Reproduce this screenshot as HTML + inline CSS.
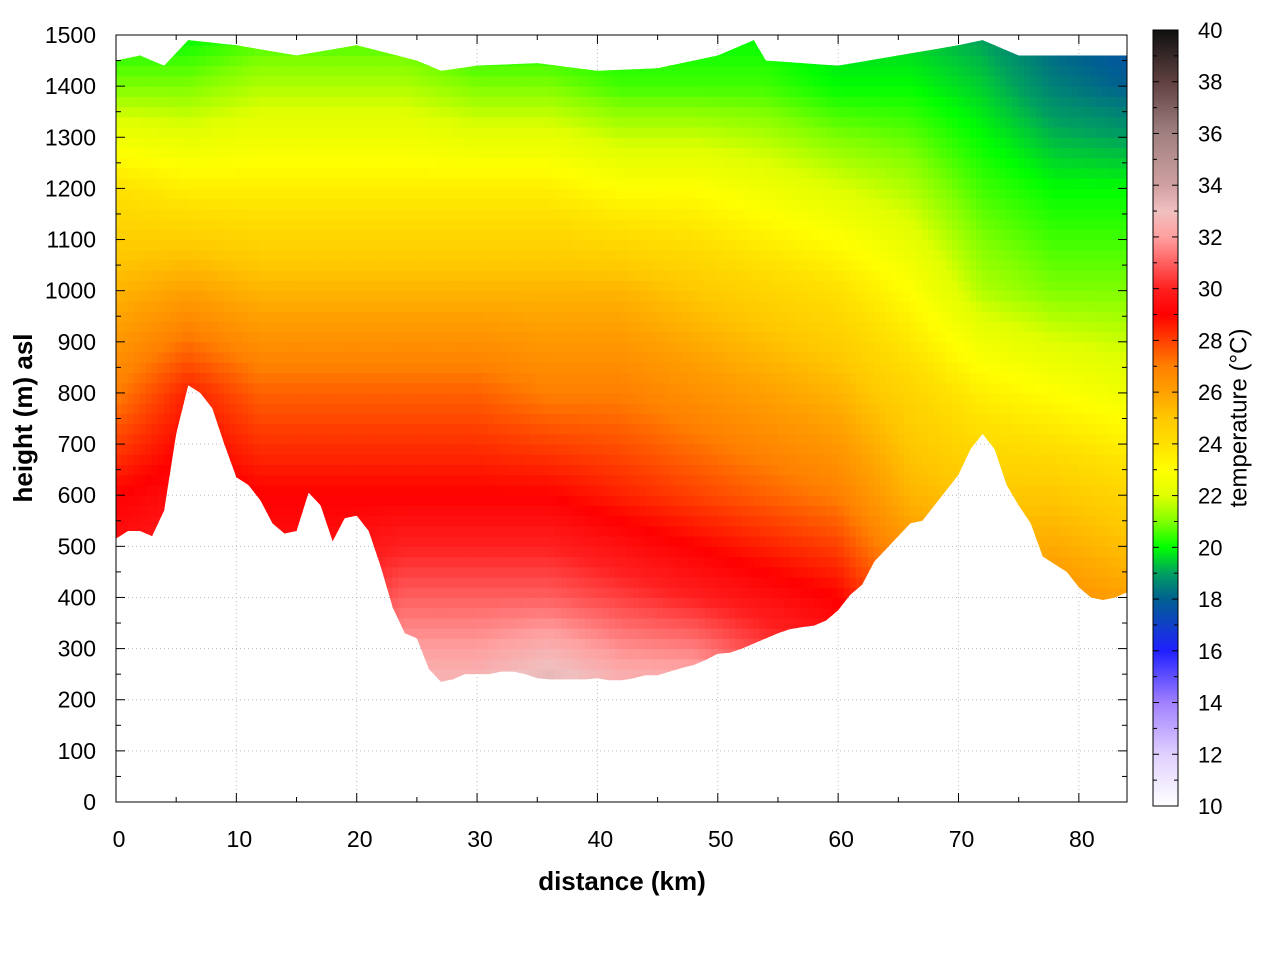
<!DOCTYPE html>
<html><head><meta charset="utf-8"><style>
body{margin:0;background:#fff;}
svg text{font-family:"Liberation Sans",sans-serif;}
</style></head><body>
<svg id="chart" width="1280" height="960" xmlns="http://www.w3.org/2000/svg">
<rect width="1280" height="960" fill="#fff"/>
<defs><clipPath id="terrainClip"><polygon id="clipPoly"/></clipPath>
<linearGradient id="cbGrad" x1="0" y1="1" x2="0" y2="0"></linearGradient></defs>
<g id="grid"></g>
<g id="heat" clip-path="url(#terrainClip)"></g>
<rect x="116" y="35" width="1011" height="767" fill="none" stroke="#000" stroke-width="1"/>
<g id="axes"></g>
<rect x="1153" y="30" width="25" height="776" fill="url(#cbGrad)" stroke="#000"/>
<g id="cbaxis"></g>
<text x="25" y="418" transform="rotate(-90 25 418)" text-anchor="middle" font-size="26" font-weight="bold" dominant-baseline="middle">height (m) asl</text>
<text x="622" y="890" text-anchor="middle" font-size="26" font-weight="bold">distance (km)</text>
<text x="1240" y="418" transform="rotate(-90 1240 418)" text-anchor="middle" font-size="24" dominant-baseline="middle">temperature (°C)</text>
</svg>
<script>
// ground profile (km step 1, m)
const groundHeight=[515,530,530,520,570,720,815,800,770,700,635,620,590,545,525,530,605,580,510,555,560,530,460,380,330,320,260,235,240,250,250,250,255,255,250,242,240,240,240,240,242,238,238,242,248,248,255,262,268,278,290,292,300,310,320,330,338,342,345,355,375,405,425,470,495,520,545,550,580,610,640,690,720,690,620,580,545,480,465,450,420,400,395,400,410];
// top boundary
const topDist=[0,2,4,6,10,15,20,25,27,30,35,40,45,50,53,54,60,65,70,72,75,80,84];
const topHeight=[1450,1460,1440,1490,1480,1460,1480,1450,1430,1440,1445,1430,1435,1460,1490,1450,1440,1460,1480,1490,1460,1460,1460];
// temperature grid
const tempDist=[0,6,12,18,24,30,36,42,48,54,60,66,72,78,84];
const tempLevels=[200,400,600,800,1000,1200,1400,1500];
const tempGrid=[
[31,30,29,27,25.5,24,21,20],
[31,30.5,29.5,28.5,26,23.5,21,20],
[31,30,29,27.5,25.5,23.5,21.5,20.5],
[31,30,29,27.5,25.5,23.5,21.5,20.5],
[33,31,29,27.5,25.5,23.5,21.5,20.5],
[33,31,29,27.5,25.5,23.5,21,20],
[34,31,29,27,25.5,23.5,21,20],
[33,30.5,28.5,27,25.5,23,20.5,20],
[33,30,28,26.5,25,23,20.5,20],
[31.5,29.5,27.5,26,24.5,22.5,20.5,20],
[30.5,29,27,25.5,24,22,20,19.5],
[28.5,27,25.5,24.5,23,21.5,20,19.5],
[27,26,25,23.5,21.5,20.5,19.5,19],
[27.5,26.5,25,23,21,20,18.5,18],
[27.5,26,24.5,22.5,21,20,18,17.5]];
const cbStops=[[10,"#ffffff"],[12,"#e0d0ff"],[14,"#a080ff"],[16,"#2020ff"],[18,"#006090"],[19,"#00a060"],[20,"#00ff00"],[21,"#80ff00"],[22,"#e0ff00"],[23,"#ffff00"],[24,"#ffe000"],[25,"#ffc800"],[26,"#ffa000"],[27,"#ff8000"],[28,"#ff4000"],[29,"#ff0000"],[30,"#ff2020"],[31,"#ff6060"],[32,"#ffa0a0"],[33,"#f0c0c0"],[34,"#d0a0a0"],[36,"#a08080"],[38,"#604040"],[40,"#101010"]];
const xTicks=[0,10,20,30,40,50,60,70,80];
const yTicks=[0,100,200,300,400,500,600,700,800,900,1000,1100,1200,1300,1400,1500];
const cbTicks=[10,12,14,16,18,20,22,24,26,28,30,32,34,36,38,40];

const NS="http://www.w3.org/2000/svg";
const X0=116,X1=1127,Y0=802,Y1=35,XMAX=84;
const sx=d=>X0+d/XMAX*(X1-X0);
const sy=h=>Y0-h/1500*(Y0-Y1);
const cbY=t=>806-(t-10)/30*776;
function mk(tag,attrs,parent){const e=document.createElementNS(NS,tag);for(const k in attrs)e.setAttribute(k,attrs[k]);parent.appendChild(e);return e;}
function hex(c){return[parseInt(c.slice(1,3),16),parseInt(c.slice(3,5),16),parseInt(c.slice(5,7),16)];}
function color(t){t=Math.max(10,Math.min(40,t));for(let i=0;i<cbStops.length-1;i++){const[a,ca]=cbStops[i],[b,cb]=cbStops[i+1];if(t<=b){const f=(t-a)/(b-a),A=hex(ca),B=hex(cb);return`rgb(${A.map((v,j)=>Math.round(v+(B[j]-v)*f)).join(",")})`;}}return cbStops[cbStops.length-1][1];}
function interp(xs,ys,x){if(x<=xs[0])return ys[0];for(let i=0;i<xs.length-1;i++){if(x<=xs[i+1]){const f=(x-xs[i])/(xs[i+1]-xs[i]);return ys[i]+(ys[i+1]-ys[i])*f;}}return ys[ys.length-1];}
function temp(d,h){const colT=tempGrid.map(r=>interp(tempLevels,r,h));return interp(tempDist,colT,d);}

let pts=[];
groundHeight.forEach((g,i)=>pts.push(sx(i)+","+sy(g)));
for(let i=84;i>=0;i--)pts.push(sx(i)+","+sy(interp(topDist,topHeight,i)));
document.getElementById('clipPoly').setAttribute('points',pts.join(" "));

const grid=document.getElementById('grid');
xTicks.forEach(t=>{if(t>0){const l=mk('line',{x1:sx(t),x2:sx(t),y1:Y0,y2:Y1,stroke:"#bbb","stroke-dasharray":"1,3"},grid);}});
yTicks.forEach(t=>{if(t>0&&t<1500){const l=mk('line',{x1:X0,x2:X1,y1:sy(t),y2:sy(t),stroke:"#bbb","stroke-dasharray":"1,3"},grid);}});

const heat=document.getElementById('heat');
const dStep=0.5,hStep=20;
for(let d=0;d<XMAX;d+=dStep){for(let h=200;h<1500;h+=hStep){
 const r=mk('rect',{x:sx(d)-0.5,y:sy(h+hStep)-0.5,width:(sx(dStep)-X0)+1,height:(sy(0)-sy(hStep))+1,fill:color(temp(d+dStep/2,h+hStep/2))},heat);
 
 
}}

const ax=document.getElementById('axes');
xTicks.forEach(t=>{mk('line',{x1:sx(t),x2:sx(t),y1:Y0,y2:Y0-9,stroke:"#000"},ax);mk('line',{x1:sx(t),x2:sx(t),y1:Y1,y2:Y1+9,stroke:"#000"},ax);
 const tx=mk('text',{x:sx(t)+3,y:847,"text-anchor":"middle","font-size":23},ax);tx.textContent=t;
 });
for(let t=5;t<XMAX;t+=10){mk('line',{x1:sx(t),x2:sx(t),y1:Y0,y2:Y0-5,stroke:"#000"},ax);mk('line',{x1:sx(t),x2:sx(t),y1:Y1,y2:Y1+5,stroke:"#000"},ax);}
yTicks.forEach(t=>{mk('line',{x1:X0,x2:X0+9,y1:sy(t),y2:sy(t),stroke:"#000"},ax);mk('line',{x1:X1,x2:X1-9,y1:sy(t),y2:sy(t),stroke:"#000"},ax);
 const tx=mk('text',{x:96,y:sy(t)+8,"text-anchor":"end","font-size":23},ax);tx.textContent=t;
 });
for(let t=50;t<1500;t+=100){mk('line',{x1:X0,x2:X0+5,y1:sy(t),y2:sy(t),stroke:"#000"},ax);mk('line',{x1:X1,x2:X1-5,y1:sy(t),y2:sy(t),stroke:"#000"},ax);}

const grad=document.getElementById('cbGrad');
cbStops.forEach(([t,c])=>mk('stop',{offset:(t-10)/30,"stop-color":c},grad));
const cba=document.getElementById('cbaxis');
cbTicks.forEach(t=>{mk('line',{x1:1153,x2:1159,y1:cbY(t),y2:cbY(t),stroke:"#000"},cba);mk('line',{x1:1178,x2:1172,y1:cbY(t),y2:cbY(t),stroke:"#000"},cba);
 const tx=mk('text',{x:1198,y:cbY(t)+8,"font-size":22},cba);tx.textContent=t;
 });
for(let t=11;t<40;t+=2){mk('line',{x1:1153,x2:1157,y1:cbY(t),y2:cbY(t),stroke:"#000"},cba);mk('line',{x1:1178,x2:1174,y1:cbY(t),y2:cbY(t),stroke:"#000"},cba);}
</script>
</body></html>
